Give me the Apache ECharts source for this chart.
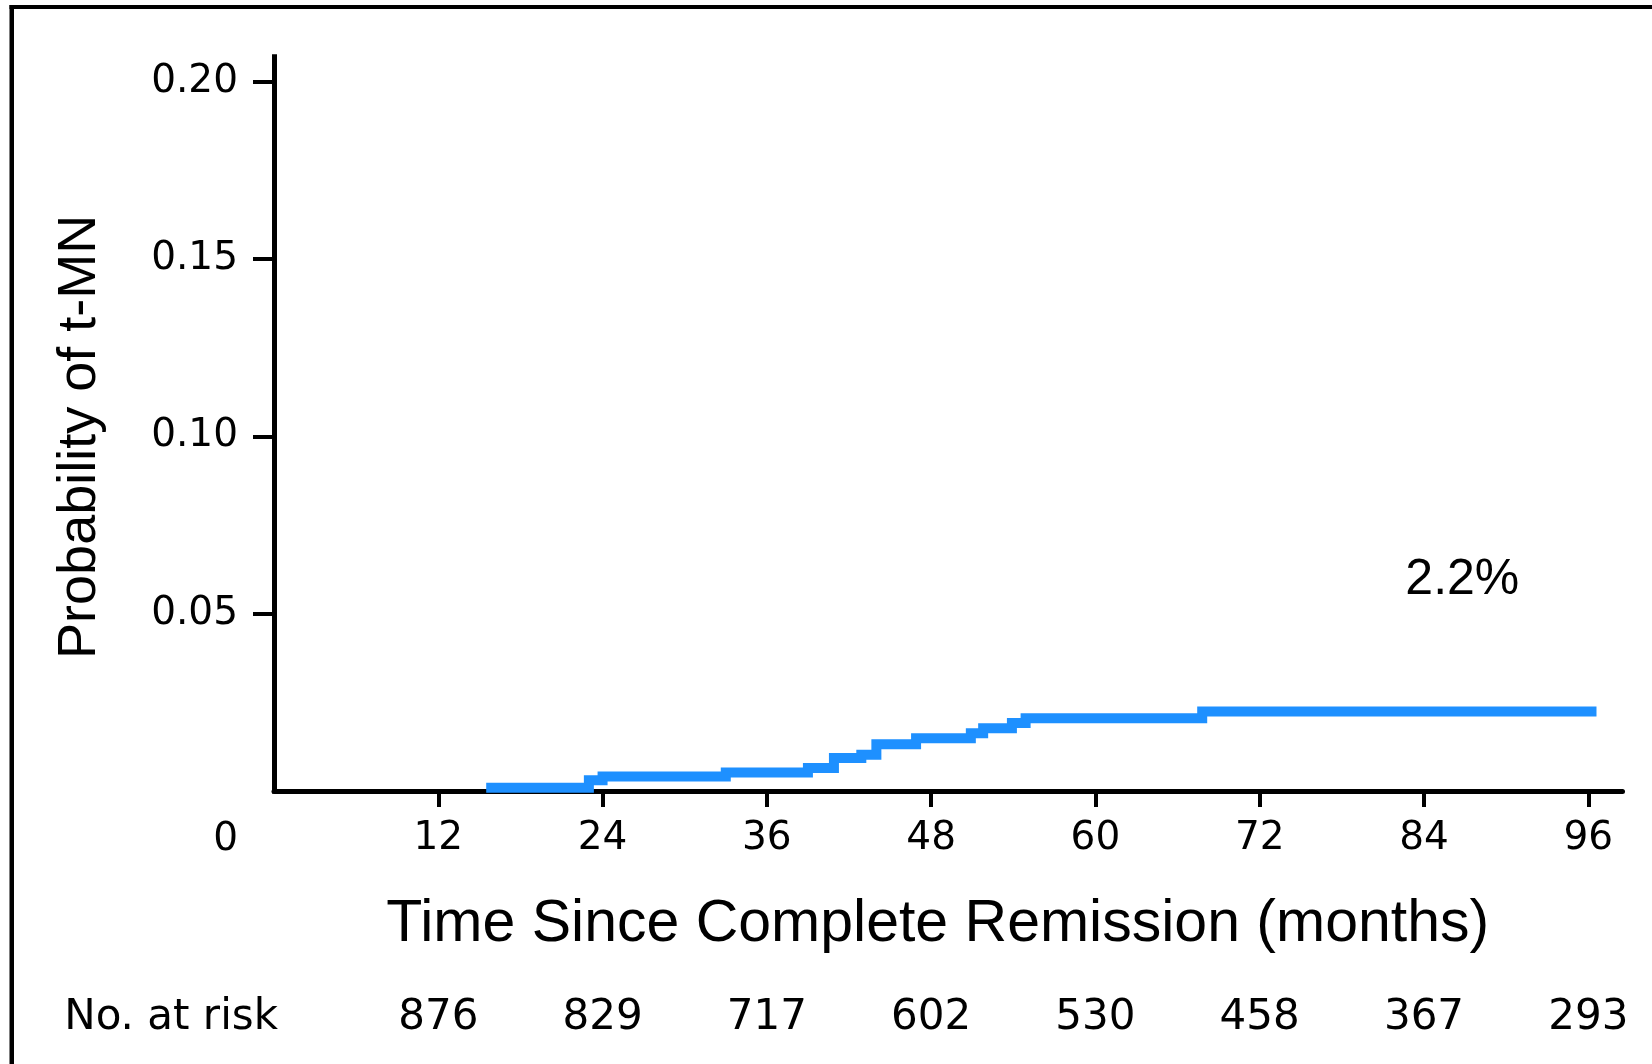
<!DOCTYPE html>
<html>
<head>
<meta charset="utf-8">
<script src="https://cdn.jsdelivr.net/npm/echarts@6/dist/echarts.min.js"></script>
<style>
  html, body { margin: 0; padding: 0; background: #fff; }
  #chart { width: 1652px; height: 1064px; }
</style>
</head>
<body>
<div id="chart"></div>
<script>
// Cumulative incidence of t-MN (step function): event times (months) and probability after each step
var stepTimes  = [15.5, 23.0, 24.0, 33.0, 39.0, 40.9, 42.9, 44.0, 46.9, 50.9, 51.8, 53.9, 54.9, 67.8, 96.6];
var stepValues = [0.0009, 0.0030, 0.0041, 0.0052, 0.0065, 0.0093, 0.0102, 0.0132, 0.0149, 0.0163, 0.0177, 0.0192, 0.0205, 0.0224, 0.0224];

// Axis ticks
var xTicks = [12, 24, 36, 48, 60, 72, 84, 96];
var yTicks = [0.05, 0.10, 0.15, 0.20];
var yLabels = [0, 0.05, 0.10, 0.15, 0.20];

// Number at risk under each x tick
var riskMonths = [12, 24, 36, 48, 60, 72, 84, 96];
var atRisk = [876, 829, 717, 602, 530, 458, 367, 293];

// Annotation
var finalLabel = '2.2%';
var finalLabelPos = [86.8, 0.0594];

var seriesData = stepTimes.map(function (t, i) { return [t, stepValues[i]]; });

var chart = echarts.init(document.getElementById('chart'), null, { renderer: 'canvas' });

var option = {
  animation: false,
  backgroundColor: '#ffffff',
  grid: { left: 274, right: 29.5, top: 56.7, bottom: 273 },
  xAxis: [
    {
      type: 'value',
      min: 0,
      max: 98.5,
      interval: 12,
      position: 'bottom',
      splitLine: { show: false },
      axisLine: { show: true, lineStyle: { color: '#000', width: 5 } },
      axisTick: { show: true, length: 16, customValues: xTicks, lineStyle: { color: '#000', width: 4 } },
      axisLabel: {
        show: true, customValues: xTicks, margin: 48, verticalAlign: 'middle',
        fontSize: 39, fontFamily: 'DejaVu Sans', color: '#000'
      },
      name: 'Time Since Complete Remission (months)',
      nameLocation: 'middle',
      nameGap: 104,
      nameTextStyle: { fontSize: 59, fontFamily: 'Liberation Sans', color: '#000', padding: [0, 21, 0, 0] }
    },
    {
      type: 'value',
      min: 0,
      max: 98.5,
      interval: 12,
      position: 'bottom',
      offset: 227,
      splitLine: { show: false },
      axisLine: { show: false },
      axisTick: { show: false },
      axisLabel: {
        show: true, customValues: riskMonths, margin: 0, verticalAlign: 'middle',
        fontSize: 42, fontFamily: 'DejaVu Sans', color: '#000',
        formatter: function (v) {
          var i = riskMonths.indexOf(v);
          return i >= 0 ? String(atRisk[i]) : '';
        }
      },
      name: 'No. at risk',
      nameLocation: 'start',
      nameGap: -4,
      nameTextStyle: { fontSize: 42, fontFamily: 'DejaVu Sans', color: '#000' }
    }
  ],
  yAxis: {
    type: 'value',
    min: 0,
    max: 0.207,
    interval: 0.05,
    splitLine: { show: false },
    axisLine: { show: true, lineStyle: { color: '#000', width: 5, cap: 'square' } },
    axisTick: { show: true, length: 21, customValues: yTicks, lineStyle: { color: '#000', width: 4 } },
    axisLabel: {
      show: true, customValues: yLabels, margin: 36,
      fontSize: 39, fontFamily: 'DejaVu Sans', color: '#000',
      formatter: function (v) {
        if (Math.abs(v) < 1e-9) return '{z|0}';
        return v.toFixed(2);
      },
      rich: {
        z: { fontSize: 39, fontFamily: 'DejaVu Sans', color: '#000', padding: [97, 0, 0, 0] }
      }
    },
    name: 'Probability of t-MN',
    nameLocation: 'middle',
    nameGap: 167,
    nameTextStyle: { fontSize: 54, fontFamily: 'Liberation Sans', color: '#000', padding: [0, 26, 0, 0] }
  },
  series: [
    {
      type: 'line',
      xAxisIndex: 0,
      step: 'end',
      data: seriesData,
      showSymbol: false,
      symbol: 'none',
      clip: false,
      lineStyle: { color: '#1e90ff', width: 10, join: 'miter', cap: 'butt' },
      z: 3,
      markPoint: {
        symbol: 'circle',
        symbolSize: 1,
        itemStyle: { color: 'rgba(0,0,0,0)' },
        label: {
          show: true, position: 'inside', formatter: finalLabel,
          fontSize: 50, fontFamily: 'Liberation Sans', color: '#000'
        },
        data: [{ coord: finalLabelPos }]
      }
    }
  ],
  graphic: [
    { type: 'rect', shape: { x: 9.5, y: 5, width: 1660, height: 4 }, style: { fill: '#000' }, silent: true },
    { type: 'rect', shape: { x: 9.5, y: 5, width: 4.5, height: 1070 }, style: { fill: '#000' }, silent: true }
  ]
};

chart.setOption(option);
</script>
</body>
</html>
